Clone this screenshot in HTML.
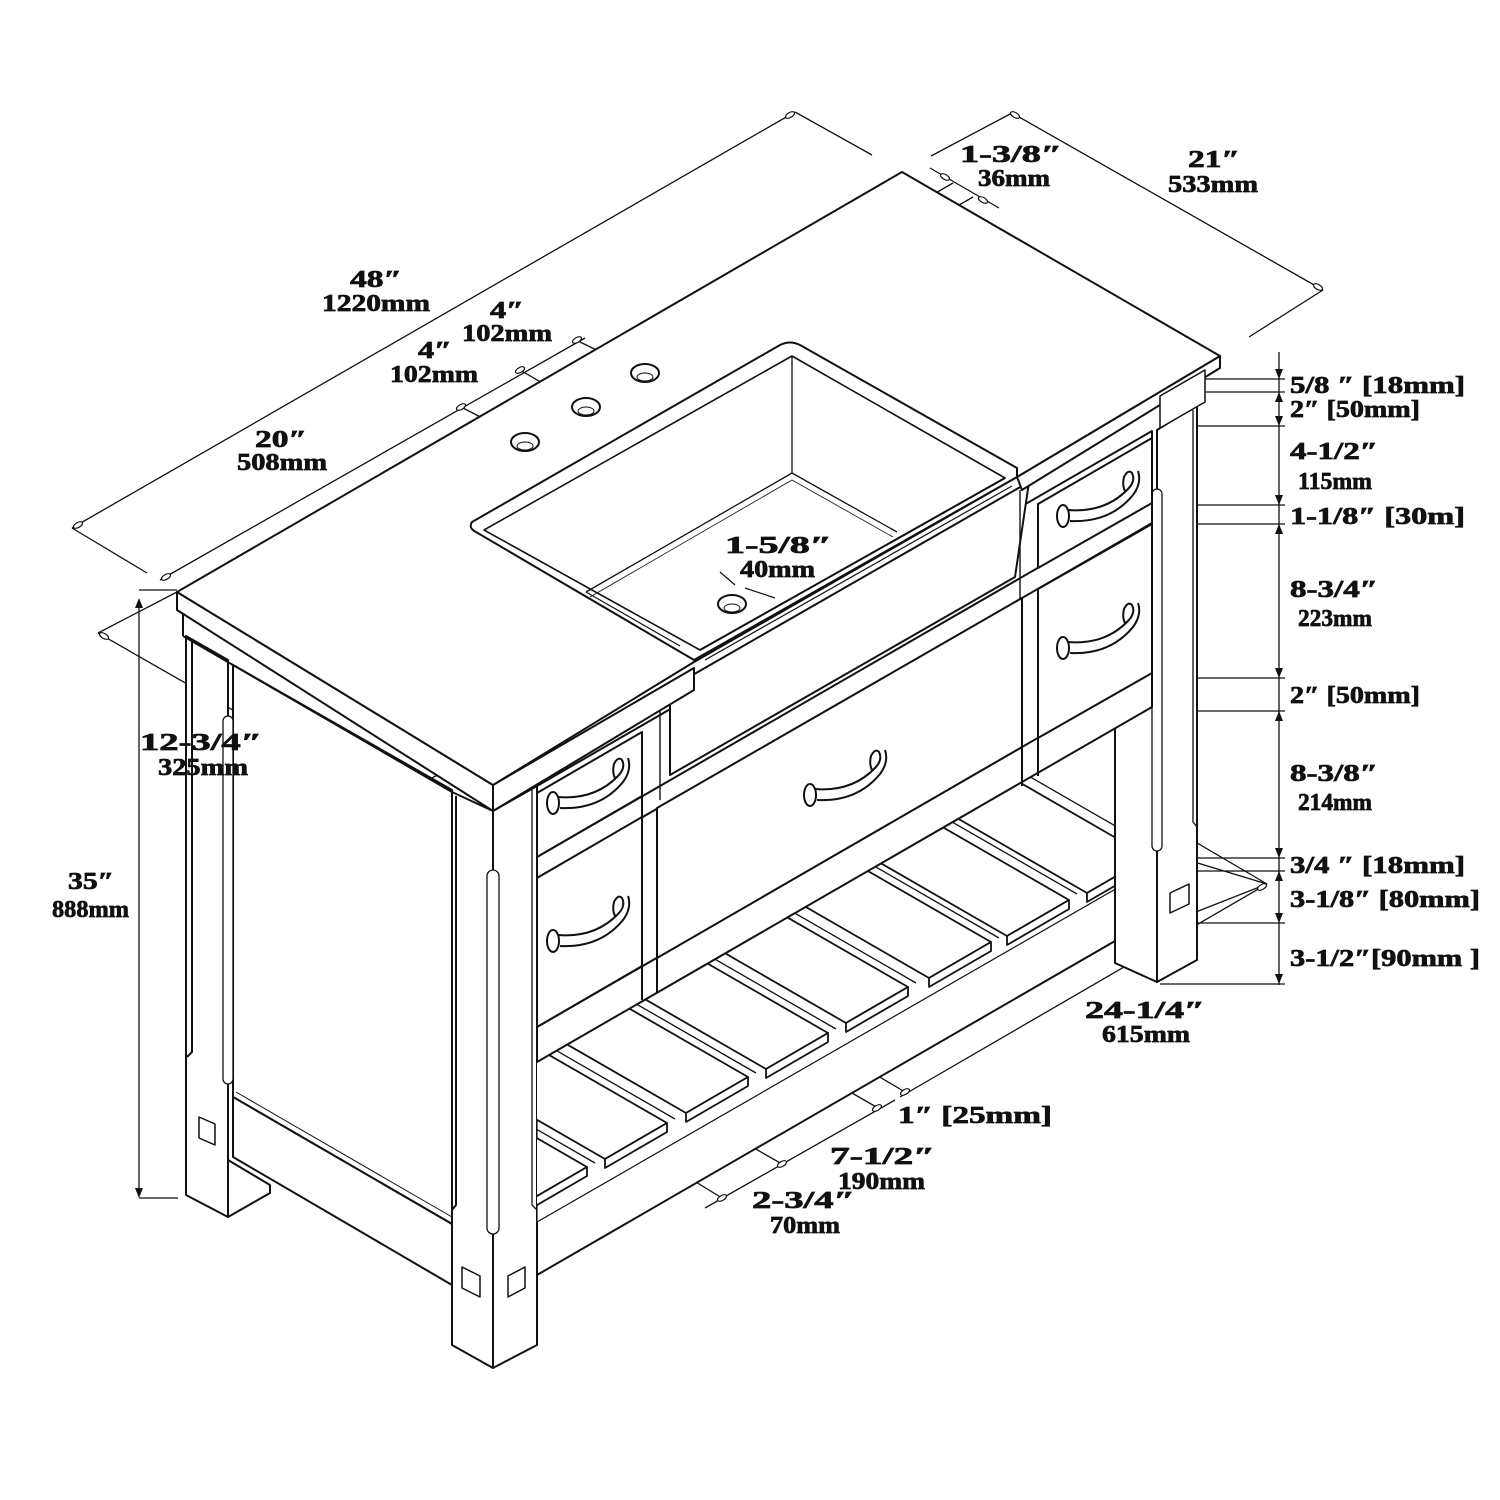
<!DOCTYPE html>
<html><head><meta charset="utf-8"><style>
html,body{margin:0;padding:0;background:#fff;}
svg{display:block;}
.t{font-family:"Liberation Serif",serif;font-weight:bold;font-size:24px;fill:#111;stroke:#111;stroke-width:0.7;}
</style></head><body>
<svg width="1500" height="1500" viewBox="0 0 1500 1500" xmlns="http://www.w3.org/2000/svg">
<defs>
<clipPath id="shelf"><polygon points="537,1062 1152,707 1152,868 537,1222"/></clipPath>
</defs>
<rect width="1500" height="1500" fill="#fff"/>
<g fill="none" stroke="#111" stroke-width="1.3">
<line x1="72" y1="528" x2="795" y2="112"/>
<line x1="72" y1="528" x2="147" y2="573"/>
<line x1="795" y1="112" x2="872" y2="155"/>
<line x1="160" y1="580" x2="585" y2="338"/>
<line x1="461" y1="407" x2="500" y2="427"/>
<line x1="520" y1="370" x2="563" y2="395"/>
<line x1="576" y1="340" x2="625" y2="364"/>
<line x1="931" y1="156" x2="1012" y2="113"/>
<line x1="1012" y1="113" x2="1323" y2="290"/>
<line x1="1323" y1="290" x2="1249" y2="337"/>
<line x1="930" y1="168" x2="999" y2="208"/>
<line x1="953" y1="183" x2="647" y2="360"/>
<line x1="973" y1="197" x2="667" y2="373"/>
<line x1="139" y1="600" x2="139" y2="1196"/>
<line x1="139" y1="590" x2="177" y2="590"/>
<line x1="139" y1="1198" x2="178" y2="1198"/>
<line x1="98" y1="633" x2="390" y2="800"/>
<line x1="98" y1="633" x2="177" y2="592"/>
<line x1="390" y1="800" x2="470" y2="758"/>
<line x1="1279" y1="352" x2="1279" y2="985"/>
<g>
<line x1="1205" y1="379" x2="1285" y2="379"/><line x1="1205" y1="392" x2="1285" y2="392"/>
<line x1="1160" y1="426" x2="1285" y2="426"/><line x1="1152" y1="505" x2="1285" y2="505"/>
<line x1="1152" y1="524" x2="1285" y2="524"/><line x1="1152" y1="678" x2="1285" y2="678"/>
<line x1="1152" y1="711" x2="1285" y2="711"/><line x1="1160" y1="858" x2="1285" y2="858"/>
<line x1="1160" y1="871" x2="1285" y2="871"/><line x1="1168" y1="923" x2="1285" y2="923"/>
<line x1="1160" y1="984" x2="1285" y2="984"/>
</g>
<line x1="1148" y1="848" x2="1267" y2="884"/>
<line x1="1168" y1="923" x2="1267" y2="884"/>
<line x1="1267" y1="884" x2="900" y2="1097"/>
<line x1="895" y1="1100" x2="705" y2="1208"/>
<line x1="800" y1="1030" x2="905" y2="1092"/>
<line x1="760" y1="1040" x2="878" y2="1108"/>
<line x1="600" y1="1060" x2="782" y2="1164"/>
<line x1="488" y1="1055" x2="722" y2="1198"/>
<line x1="1030" y1="745" x2="1267" y2="884"/>
</g>
<g fill="#fff" stroke="#111" stroke-width="1.2">
<ellipse cx="78" cy="525" rx="5" ry="2.5" transform="rotate(-30 78 525)"/>
<ellipse cx="790" cy="115" rx="5" ry="2.5" transform="rotate(-30 790 115)"/>
<ellipse cx="166" cy="577" rx="5" ry="2.5" transform="rotate(-30 166 577)"/>
<ellipse cx="461" cy="407" rx="5" ry="2.5" transform="rotate(-30 461 407)"/>
<ellipse cx="520" cy="370" rx="5" ry="2.5" transform="rotate(-30 520 370)"/>
<ellipse cx="577" cy="340" rx="5" ry="2.5" transform="rotate(-30 577 340)"/>
<ellipse cx="1015" cy="115" rx="5" ry="2.5" transform="rotate(30 1015 115)"/>
<ellipse cx="1318" cy="287" rx="5" ry="2.5" transform="rotate(30 1318 287)"/>
<ellipse cx="945" cy="177" rx="5" ry="2.5" transform="rotate(30 945 177)"/>
<ellipse cx="983" cy="200" rx="5" ry="2.5" transform="rotate(30 983 200)"/>
<ellipse cx="1262" cy="887" rx="5" ry="2.5" transform="rotate(-30 1262 887)"/>
<ellipse cx="905" cy="1092" rx="5" ry="2.5" transform="rotate(-30 905 1092)"/>
<ellipse cx="877" cy="1108" rx="5" ry="2.5" transform="rotate(-30 877 1108)"/>
<ellipse cx="782" cy="1164" rx="5" ry="2.5" transform="rotate(-30 782 1164)"/>
<ellipse cx="722" cy="1198" rx="5" ry="2.5" transform="rotate(-30 722 1198)"/>
<ellipse cx="385" cy="797" rx="5" ry="2.5" transform="rotate(30 385 797)"/>
<ellipse cx="104" cy="636" rx="5" ry="2.5" transform="rotate(30 104 636)"/>
</g>
<g fill="#111">
<path d="M139,598 l-4,10 h8 z"/><path d="M139,1198 l-4,-10 h8 z"/>
<path d="M1279,379 l-4,-10 h8 z"/><path d="M1279,392 l-4,10 h8 z"/>
<path d="M1279,426 l-4,-10 h8 z"/><path d="M1279,505 l-4,-10 h8 z"/>
<path d="M1279,524 l-4,10 h8 z"/><path d="M1279,678 l-4,-10 h8 z"/>
<path d="M1279,711 l-4,10 h8 z"/><path d="M1279,858 l-4,-10 h8 z"/>
<path d="M1279,871 l-4,10 h8 z"/><path d="M1279,923 l-4,-10 h8 z"/>
<path d="M1279,984 l-4,-10 h8 z"/>
</g>

<g stroke="#111" stroke-width="2" fill="#fff" stroke-linejoin="round">
<polygon points="186,636 228,660 228,1217 186,1195"/>
<polyline fill="none" points="192,640 192,1052 187,1057"/>
<polygon points="228,1160 270,1185 270,1193 228,1217"/>
<polygon points="233,665 452,790 452,1224 233,1097"/>
<polygon points="233,1097 452,1224 452,1285 233,1157"/>
<line x1="236" y1="1092" x2="452" y2="1217" stroke-width="1"/>
<rect x="223" y="716" width="10" height="368" rx="5" stroke-width="1.3"/>
<polygon points="199,1117 215,1124 215,1145 199,1138" stroke-width="1.5"/>
<line x1="183" y1="612" x2="183" y2="636"/>
<line x1="183" y1="636" x2="452" y2="792"/>

<polygon points="452,792 493,811 493,1368 452,1345"/>
<polyline fill="none" points="456,796 456,1205 452,1210"/>
<polygon points="493,811 537,786 537,1345 493,1368"/>
<polyline fill="none" points="532,789 532,1205 537,1210" stroke-width="1.3"/>
<rect x="487" y="870" width="12" height="364" rx="6" stroke-width="1.3"/>
<polygon points="462,1267 480,1276 480,1297 462,1288" stroke-width="1.5"/>
<polygon points="508,1276 525,1267 525,1288 508,1297" stroke-width="1.5"/>

<polygon points="537,1210 1115,876 1115,941 537,1275"/>
<polygon points="537,1062 1152,707 1152,868 537,1222" stroke-width="1.2"/>
<line x1="1115" y1="728" x2="1115" y2="963"/>
<g clip-path="url(#shelf)" stroke-width="1.8">
<polygon points="1149,857 1087,893 787,720 849,684"/><polygon points="1087,893 1087,902 1149,866 1149,857"/>
<polygon points="1069,900 1007,936 707,763 769,727"/><polygon points="1007,936 1007,945 1069,909 1069,900"/>
<polygon points="991,942 929,978 629,805 691,769"/><polygon points="929,978 929,987 991,951 991,942"/>
<polygon points="908,987 846,1023 546,850 608,814"/><polygon points="846,1023 846,1032 908,996 908,987"/>
<polygon points="828,1033 766,1069 466,896 528,860"/><polygon points="766,1069 766,1078 828,1042 828,1033"/>
<polygon points="748,1077 686,1113 386,940 448,904"/><polygon points="686,1113 686,1122 748,1086 748,1077"/>
<polygon points="667,1123 605,1159 305,986 367,950"/><polygon points="605,1159 605,1168 667,1132 667,1123"/>
<polygon points="587,1167 525,1203 225,1030 287,994"/><polygon points="525,1203 525,1212 587,1176 587,1167"/>
<g fill="none" stroke-width="1.3">
<line x1="1157" y1="850" x2="857" y2="677"/><line x1="1077" y1="894" x2="777" y2="721"/>
<line x1="999" y1="938" x2="699" y2="765"/><line x1="916" y1="983" x2="616" y2="810"/>
<line x1="836" y1="1029" x2="536" y2="856"/><line x1="756" y1="1073" x2="456" y2="900"/>
<line x1="675" y1="1119" x2="375" y2="946"/><line x1="595" y1="1163" x2="295" y2="990"/>
</g>
</g>

<polygon points="1157,430 1197,405 1197,960 1157,982"/>
<polyline fill="none" points="1193,410 1193,822 1197,827" stroke-width="1.3"/>
<polygon points="1115,728 1157,704 1157,982 1115,963"/>
<rect x="1152" y="489" width="10" height="362" rx="5" stroke-width="1.3"/>
<polygon points="1170,893 1189,884 1189,904 1170,913" stroke-width="1.5"/>

<polygon points="537,786 1152,431 1152,707 537,1062"/>
<line x1="537" y1="857" x2="1152" y2="502"/>
<line x1="537" y1="878" x2="1152" y2="523"/>
<line x1="537" y1="1027" x2="1152" y2="672"/>
<polygon points="537,793 642,732 642,796 537,857"/>
<polygon points="537,878 642,817 642,966 537,1027"/>
<line x1="657" y1="808" x2="657" y2="993"/>
<line x1="642" y1="732" x2="642" y2="1000"/>
<polygon points="657,808 1022,598 1022,747 657,958"/>
<line x1="1038" y1="589" x2="1038" y2="776"/>
<line x1="1022" y1="747" x2="1022" y2="786"/>
<polygon points="1038,504 1152,438 1152,503 1038,568"/>
<polygon points="1038,589 1152,524 1152,673 1038,738"/>

<polygon points="670,688 1029,482 1015,577 670,775"/>
<line x1="660" y1="693" x2="660" y2="800" stroke-width="1.4"/>
<line x1="1020" y1="490" x2="1020" y2="600" stroke-width="1.4"/>

<polygon points="177,592 177,610 493,811 493,785"/>
<polygon points="493,785 694,668 694,690 493,811"/>
<polygon points="1017,477 1220,356 1220,368 1022,490"/>
<polygon points="1205,370 1205,402 1160,428 1160,396" stroke-width="1.5"/>
<polygon points="177,592 902,172 1220,356 1017,477 694,662 493,785"/>
<path d="M472,522 Q468,528 476,532 L694,660 L1017,477 L1017,468 L800,345 Q790,340 780,345 Z"/>
<polygon points="484,530 792,356 1005,478 700,650" stroke-width="1.6"/>
<line x1="700" y1="650" x2="1005" y2="478"/>
<line x1="705" y1="660" x2="1012" y2="486" stroke-width="1.2"/>
<line x1="792" y1="356" x2="792" y2="473" stroke-width="1.3"/>
<polyline fill="none" points="586,592 792,473 897,532" stroke-width="1.3"/>
<polyline fill="none" points="590,597 792,480 893,537" stroke-width="0.8"/>
<line x1="586" y1="592" x2="680" y2="646" stroke-width="1.2"/>
<ellipse cx="525" cy="442" rx="14" ry="9"/><ellipse cx="525" cy="446" rx="8" ry="4" stroke-width="1"/>
<ellipse cx="586" cy="407" rx="14" ry="9"/><ellipse cx="586" cy="411" rx="8" ry="4" stroke-width="1"/>
<ellipse cx="645" cy="373" rx="14" ry="9"/><ellipse cx="645" cy="377" rx="8" ry="4" stroke-width="1"/>
<ellipse cx="732" cy="604" rx="14" ry="9"/><ellipse cx="732" cy="608" rx="8" ry="4" stroke-width="1"/>
<line x1="720" y1="572" x2="735" y2="585" stroke-width="1.2" fill="none"/>
<line x1="745" y1="588" x2="775" y2="598" stroke-width="1.2" fill="none"/>
</g>

<g fill="none" stroke="#111" stroke-width="2">
<g id="h1">
<path d="M558,797 Q595,800 618,776 Q626,768 622,760 Q618,756 614,764 Q612,772 615,778 M560,808 Q600,810 623,782 Q632,770 628,758"/>
<ellipse cx="553" cy="803" rx="6" ry="11" fill="#fff"/>
</g>
<use href="#h1" transform="translate(0,138)"/>
<use href="#h1" transform="translate(257,-8)"/>
<use href="#h1" transform="translate(510,-287)"/>
<use href="#h1" transform="translate(510,-155)"/>
</g>

<g class="t" lengthAdjust="spacingAndGlyphs">
<text x="350" y="287" textLength="52" lengthAdjust="spacingAndGlyphs">48″</text>
<text x="322" y="311" textLength="108" lengthAdjust="spacingAndGlyphs">1220mm</text>
<text x="490" y="318" textLength="34" lengthAdjust="spacingAndGlyphs">4″</text>
<text x="462" y="341" textLength="90" lengthAdjust="spacingAndGlyphs">102mm</text>
<text x="418" y="358" textLength="34" lengthAdjust="spacingAndGlyphs">4″</text>
<text x="390" y="382" textLength="88" lengthAdjust="spacingAndGlyphs">102mm</text>
<text x="255" y="447" textLength="52" lengthAdjust="spacingAndGlyphs">20″</text>
<text x="237" y="470" textLength="90" lengthAdjust="spacingAndGlyphs">508mm</text>
<text x="960" y="162" textLength="102" lengthAdjust="spacingAndGlyphs">1-3/8″</text>
<text x="978" y="186" textLength="72" lengthAdjust="spacingAndGlyphs">36mm</text>
<text x="1188" y="167" textLength="52" lengthAdjust="spacingAndGlyphs">21″</text>
<text x="1168" y="192" textLength="90" lengthAdjust="spacingAndGlyphs">533mm</text>
<text x="725" y="553" textLength="107" lengthAdjust="spacingAndGlyphs">1-5/8″</text>
<text x="740" y="577" textLength="75" lengthAdjust="spacingAndGlyphs">40mm</text>
<text x="140" y="750" textLength="122" lengthAdjust="spacingAndGlyphs">12-3/4″</text>
<text x="158" y="775" textLength="90" lengthAdjust="spacingAndGlyphs">325mm</text>
<text x="68" y="889" textLength="46" lengthAdjust="spacingAndGlyphs">35″</text>
<text x="52" y="917" textLength="77" lengthAdjust="spacingAndGlyphs">888mm</text>
<text x="1290" y="393" textLength="175" lengthAdjust="spacingAndGlyphs">5/8 ″ [18mm]</text>
<text x="1290" y="417" textLength="130" lengthAdjust="spacingAndGlyphs">2″ [50mm]</text>
<text x="1290" y="459" textLength="88" lengthAdjust="spacingAndGlyphs">4-1/2″</text>
<text x="1298" y="489" textLength="74" lengthAdjust="spacingAndGlyphs">115mm</text>
<text x="1290" y="524" textLength="175" lengthAdjust="spacingAndGlyphs">1-1/8″ [30m]</text>
<text x="1290" y="597" textLength="88" lengthAdjust="spacingAndGlyphs">8-3/4″</text>
<text x="1298" y="626" textLength="74" lengthAdjust="spacingAndGlyphs">223mm</text>
<text x="1290" y="703" textLength="130" lengthAdjust="spacingAndGlyphs">2″ [50mm]</text>
<text x="1290" y="781" textLength="88" lengthAdjust="spacingAndGlyphs">8-3/8″</text>
<text x="1298" y="810" textLength="74" lengthAdjust="spacingAndGlyphs">214mm</text>
<text x="1290" y="873" textLength="175" lengthAdjust="spacingAndGlyphs">3/4 ″ [18mm]</text>
<text x="1290" y="907" textLength="190" lengthAdjust="spacingAndGlyphs">3-1/8″ [80mm]</text>
<text x="1290" y="966" textLength="190" lengthAdjust="spacingAndGlyphs">3-1/2″[90mm ]</text>
<text x="1085" y="1018" textLength="120" lengthAdjust="spacingAndGlyphs">24-1/4″</text>
<text x="1102" y="1042" textLength="88" lengthAdjust="spacingAndGlyphs">615mm</text>
<text x="898" y="1123" textLength="154" lengthAdjust="spacingAndGlyphs">1″ [25mm]</text>
<text x="830" y="1164" textLength="105" lengthAdjust="spacingAndGlyphs">7-1/2″</text>
<text x="838" y="1189" textLength="87" lengthAdjust="spacingAndGlyphs">190mm</text>
<text x="752" y="1208" textLength="103" lengthAdjust="spacingAndGlyphs">2-3/4″</text>
<text x="770" y="1233" textLength="70" lengthAdjust="spacingAndGlyphs">70mm</text>
</g>
</svg>
</body></html>
